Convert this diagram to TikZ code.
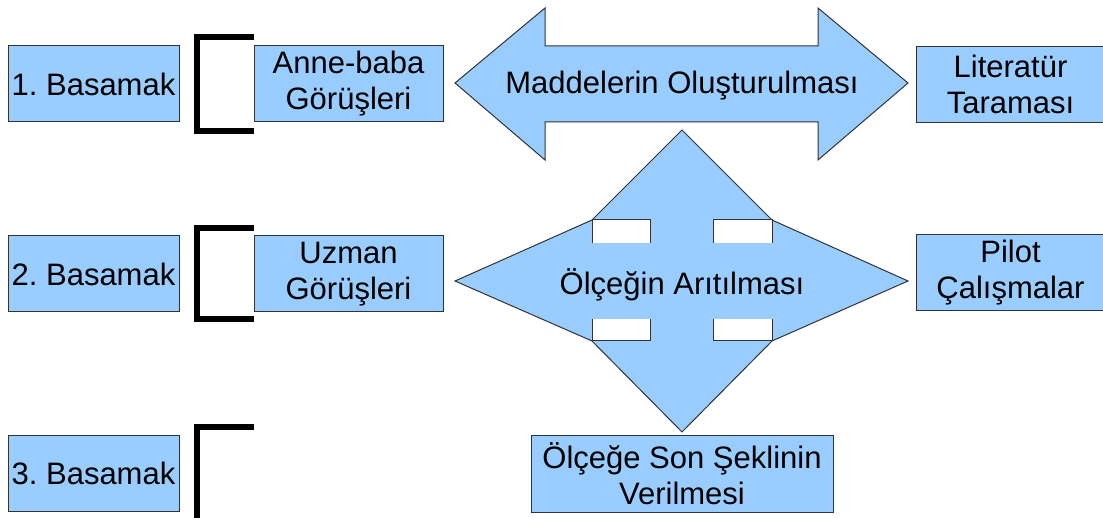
\documentclass[tikz,border=0pt]{standalone}
\usepackage{fontspec}
\setmainfont{Liberation Sans}
\usetikzlibrary{positioning,calc}
\definecolor{acikmavi}{HTML}{99CCFF}
\definecolor{kenar}{HTML}{333333}
\frenchspacing

\begin{document}
\begin{tikzpicture}[x=1pt, y=-1pt, line join=miter,
  kutu/.style={draw=kenar, fill=acikmavi, line width=1pt, inner sep=0pt,
               minimum height=76pt, align=center,
               font=\fontsize{31}{36}\selectfont},
  basamak/.style={kutu, minimum width=171pt},
  gorus/.style={kutu, minimum width=189pt},
  ok/.style={draw=kenar, fill=acikmavi, line width=1pt},
  ayrac/.style={draw=black, line width=5.5pt},
  yazi/.style={inner sep=0pt, font=\fontsize{31}{36}\selectfont}]
\useasboundingbox (0,0) rectangle (1103,518);
%
\node[basamak] (b1) at (93.5,84)  {1. Basamak};
\node[basamak] (b2) at (93.5,274) {2. Basamak};
\node[basamak] (b3) at (93.5,473) {3. Basamak};
%
\node[gorus] (anne)  at (348.5,84)  {Anne-baba\\Görüşleri};
\node[gorus] (uzman) at (348.5,274) {Uzman\\Görüşleri};
%
\node[gorus] (lit)   at (1010.5,84.5) {Literatür\\Taraması};
\node[gorus] (pilot) at (1010.5,273)  {Pilot\\Çalışmalar};
%
\node[kutu, minimum width=302pt, minimum height=77pt] (son) at (682,473.5)
  {Ölçeğe Son Şeklinin\\Verilmesi};
%
% ayraclar
\draw[ayrac] (254,37) -- (197,37) -- (197,131) -- (254,131);
\draw[ayrac] (254,228) -- (197,228) -- (197,319) -- (254,319);
\draw[ayrac] (254,427) -- (197,427) -- (197,530);
%
% cift yonlu ok
\draw[ok] (455,83) -- (545,8) -- (545,46) -- (818,46) -- (818,8) -- (908,83)
  -- (818,160) -- (818,122) -- (545,122) -- (545,160) -- cycle;
\node[yazi] (madde) at (682,86) {Maddelerin Oluşturulması};
%
% dort yonlu ok
\draw[ok] (682,130) -- (772,220) -- (908,281) -- (772,341) -- (682,432)
  -- (592,341) -- (455,281) -- (592,220) -- cycle;
\foreach \xa/\xb in {592/650, 713/772} {
  \fill[white] (\xa,220) rectangle (\xb,243);
  \fill[white] (\xa,319) rectangle (\xb,341);
  \draw[kenar, line width=1pt] (\xa,243) -- (\xa,220) -- (\xb,220) -- (\xb,243);
  \draw[kenar, line width=1pt] (\xa,319) -- (\xa,341) -- (\xb,341) -- (\xb,319);
}
\node[yazi] (arit) at (682,285) {Ölçeğin Arıtılması};
\end{tikzpicture}
\end{document}
